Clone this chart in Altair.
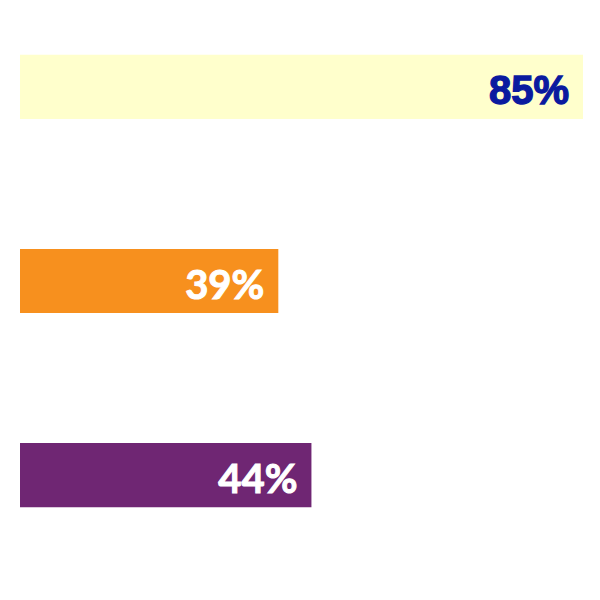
import altair as alt
import pandas as pd

categories = ["A", "B", "C"]
values = [85, 39, 44]
labels = ["85%", "39%", "44%"]
bar_colors = ["#FFFFCC", "#F7901E", "#6F2673"]
label_colors = ["#0A1A9F", "#FFFFFF", "#FFFFFF"]
label_fonts = ["Liberation Sans", "Lato", "Lato"]

df = pd.DataFrame({
    "cat": categories,
    "value": values,
    "label": labels,
    "bar_color": bar_colors,
    "label_color": label_colors,
    "font": label_fonts,
})

x = alt.X("value:Q", scale=alt.Scale(domain=[0, 85], nice=False, zero=True), axis=None)
y = alt.Y("cat:N", sort=categories, axis=None,
          scale=alt.Scale(paddingInner=0.67, paddingOuter=0.2))

bars = alt.Chart(df).mark_bar().encode(
    x=x, y=y, color=alt.Color("bar_color:N", scale=None)
)

text1 = alt.Chart(df[df["font"] == "Liberation Sans"]).mark_text(
    align="right", baseline="alphabetic", dx=-14, dy=17, fontSize=40, fontWeight="bold",
    font="Liberation Sans", strokeWidth=1.3
).encode(x=x, y=y, text="label:N",
         color=alt.Color("label_color:N", scale=None),
         stroke=alt.Stroke("label_color:N", scale=None))

text2 = alt.Chart(df[df["font"] == "Lato"]).mark_text(
    align="right", baseline="alphabetic", dx=-14, dy=18, fontSize=40, fontWeight="bold",
    font="Lato", strokeWidth=1.0
).encode(x=x, y=y, text="label:N",
         color=alt.Color("label_color:N", scale=None),
         stroke=alt.Stroke("label_color:N", scale=None))

chart = (bars + text1 + text2).properties(
    width=563, height=530,
    autosize=alt.AutoSizeParams(type="none"),
    padding={"left": 12, "top": 8, "right": 0, "bottom": 0},
).configure_view(stroke=None)

chart.save("out.html", embed_options={"renderer": "svg", "actions": False})
